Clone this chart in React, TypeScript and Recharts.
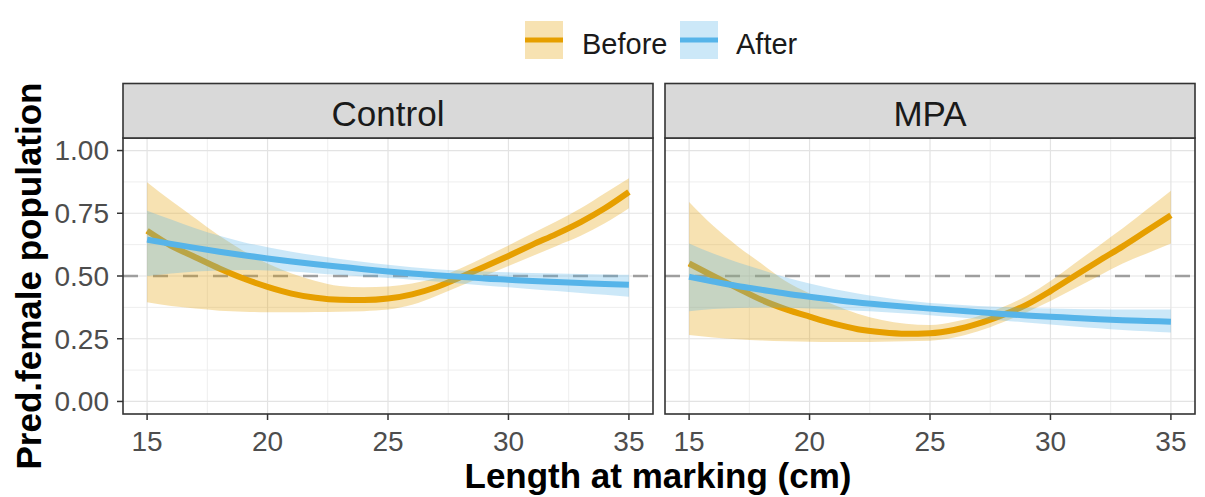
import React from 'react';
import { ComposedChart, Area, Line, XAxis, YAxis, ReferenceLine } from 'recharts';

// Length at marking (cm) at which the fitted curves are evaluated
const lengths = [15, 16, 17, 18, 19, 20, 21, 22, 23, 24, 25, 26, 27, 28, 29, 30, 31, 32, 33, 34, 35];

// Control sites
const controlBefore = [0.68, 0.62, 0.575, 0.53, 0.49, 0.457, 0.43, 0.413, 0.405, 0.404, 0.41, 0.427, 0.455, 0.495, 0.537, 0.58, 0.625, 0.668, 0.715, 0.77, 0.835];
const controlBeforeLow = [0.395, 0.38, 0.37, 0.362, 0.358, 0.356, 0.356, 0.357, 0.358, 0.36, 0.366, 0.385, 0.42, 0.46, 0.5, 0.54, 0.58, 0.62, 0.66, 0.71, 0.77];
const controlBeforeHigh = [0.874, 0.8, 0.73, 0.66, 0.6, 0.55, 0.51, 0.48, 0.46, 0.455, 0.458, 0.47, 0.493, 0.53, 0.575, 0.622, 0.67, 0.718, 0.77, 0.83, 0.89];
const controlAfter = [0.645, 0.628, 0.612, 0.597, 0.583, 0.57, 0.558, 0.547, 0.537, 0.527, 0.518, 0.51, 0.503, 0.497, 0.49, 0.485, 0.48, 0.476, 0.472, 0.468, 0.465];
const controlAfterLow = [0.5, 0.51, 0.518, 0.522, 0.524, 0.522, 0.518, 0.511, 0.504, 0.498, 0.492, 0.485, 0.478, 0.47, 0.462, 0.455, 0.447, 0.44, 0.432, 0.425, 0.417];
const controlAfterHigh = [0.76, 0.725, 0.69, 0.66, 0.635, 0.615, 0.597, 0.582, 0.568, 0.556, 0.545, 0.535, 0.527, 0.522, 0.518, 0.515, 0.512, 0.51, 0.508, 0.506, 0.505];

// MPA sites
const mpaBefore = [0.55, 0.5, 0.452, 0.405, 0.368, 0.338, 0.31, 0.288, 0.276, 0.27, 0.272, 0.285, 0.31, 0.344, 0.385, 0.44, 0.5, 0.56, 0.618, 0.68, 0.742];
const mpaBeforeLow = [0.265, 0.255, 0.248, 0.243, 0.24, 0.238, 0.237, 0.237, 0.238, 0.24, 0.242, 0.255, 0.28, 0.315, 0.355, 0.4, 0.45, 0.5, 0.55, 0.59, 0.63];
const mpaBeforeHigh = [0.795, 0.7, 0.62, 0.55, 0.48, 0.43, 0.385, 0.35, 0.325, 0.31, 0.305, 0.318, 0.34, 0.375, 0.42, 0.48, 0.55, 0.62, 0.69, 0.765, 0.84];
const mpaAfter = [0.497, 0.478, 0.46, 0.445, 0.43, 0.417, 0.405, 0.394, 0.385, 0.377, 0.37, 0.363, 0.356, 0.349, 0.343, 0.338, 0.333, 0.328, 0.324, 0.321, 0.318];
const mpaAfterLow = [0.36, 0.368, 0.372, 0.374, 0.373, 0.37, 0.366, 0.362, 0.357, 0.351, 0.344, 0.337, 0.33, 0.323, 0.315, 0.307, 0.299, 0.292, 0.285, 0.28, 0.275];
const mpaAfterHigh = [0.63, 0.59, 0.555, 0.525, 0.495, 0.47, 0.448, 0.43, 0.415, 0.402, 0.392, 0.386, 0.38, 0.376, 0.373, 0.37, 0.368, 0.367, 0.366, 0.366, 0.366];

const xTicks = [15, 20, 25, 30, 35];
const xMinor = [17.5, 22.5, 27.5, 32.5];
const yTicks = [0, 0.25, 0.5, 0.75, 1];
const yMinor = [0.125, 0.375, 0.625, 0.875];
const referenceLevel = 0.5;

const facetLabels = ['Control', 'MPA'];
const seriesLabels = ['Before', 'After'];

const BEFORE = '#E69F00';
const AFTER = '#56B4E9';
const FONT = '"Liberation Sans", Arial, sans-serif';

function buildRows(
  before: number[], beforeLow: number[], beforeHigh: number[],
  after: number[], afterLow: number[], afterHigh: number[]
) {
  return lengths.map((x, i) => ({
    x,
    before: before[i],
    beforeBand: [beforeLow[i], beforeHigh[i]],
    after: after[i],
    afterBand: [afterLow[i], afterHigh[i]],
  }));
}

const controlRows = buildRows(controlBefore, controlBeforeLow, controlBeforeHigh, controlAfter, controlAfterLow, controlAfterHigh);
const mpaRows = buildRows(mpaBefore, mpaBeforeLow, mpaBeforeHigh, mpaAfter, mpaAfterLow, mpaAfterHigh);

const tickStyle = { fontSize: 28, fill: '#4D4D4D', fontFamily: FONT };

type PanelProps = {
  rows: any[];
  width: number;
  left: number;
  right: number;
  showY: boolean;
};

function Panel({ rows, width, left, right, showY }: PanelProps) {
  return (
    <ComposedChart
      width={width}
      height={497}
      data={rows}
      margin={{ top: 138, right, bottom: 43, left }}
    >
      {yMinor.map((v) => (
        <ReferenceLine key={'ym' + v} y={v} stroke="#EEEEEE" strokeWidth={1} zIndex={-100} />
      ))}
      {xMinor.map((v) => (
        <ReferenceLine key={'xm' + v} x={v} stroke="#EEEEEE" strokeWidth={1} zIndex={-100} />
      ))}
      {yTicks.map((v) => (
        <ReferenceLine key={'yM' + v} y={v} stroke="#E3E3E3" strokeWidth={1.2} zIndex={-99} />
      ))}
      {xTicks.map((v) => (
        <ReferenceLine key={'xM' + v} x={v} stroke="#E3E3E3" strokeWidth={1.2} zIndex={-99} />
      ))}
      <XAxis
        type="number"
        dataKey="x"
        domain={[14, 36]}
        ticks={xTicks}
        height={40}
        axisLine={false}
        tickLine={{ stroke: '#333333', strokeWidth: 1.5 }}
        tickSize={6}
        tickMargin={11}
        tick={tickStyle}
        interval={0}
      />
      <YAxis
        type="number"
        domain={[-0.05, 1.05]}
        ticks={yTicks}
        hide={!showY}
        width={123}
        axisLine={false}
        tickLine={{ stroke: '#333333', strokeWidth: 1.5 }}
        tickSize={6}
        tickMargin={8}
        tick={tickStyle}
        interval={0}
        tickFormatter={(v: number) => v.toFixed(2)}
      />
      <ReferenceLine
        y={referenceLevel}
        stroke="#9E9E9E"
        strokeWidth={2.5}
        strokeDasharray="15 15"
        zIndex={50}
      />
      <Area
        type="monotone"
        dataKey="beforeBand"
        stroke="none"
        fill={BEFORE}
        fillOpacity={0.3}
        isAnimationActive={false}
        activeDot={false}
        zIndex={100}
      />
      <Line
        type="monotone"
        dataKey="before"
        stroke={BEFORE}
        strokeWidth={6}
        dot={false}
        activeDot={false}
        isAnimationActive={false}
        zIndex={101}
      />
      <Area
        type="monotone"
        dataKey="afterBand"
        stroke="none"
        fill={AFTER}
        fillOpacity={0.3}
        isAnimationActive={false}
        activeDot={false}
        zIndex={102}
      />
      <Line
        type="monotone"
        dataKey="after"
        stroke={AFTER}
        strokeWidth={6}
        dot={false}
        activeDot={false}
        isAnimationActive={false}
        zIndex={103}
      />
    </ComposedChart>
  );
}

const panels = [
  { x: 123, label: facetLabels[0] },
  { x: 665, label: facetLabels[1] },
];
const PANEL_W = 530;

export default function App() {
  return (
    <div
      style={{
        position: 'absolute',
        left: 0,
        top: 0,
        width: 1205,
        height: 497,
        background: '#FFFFFF',
        fontFamily: FONT,
        overflow: 'hidden',
      }}
    >
      <div style={{ position: 'absolute', left: 0, top: 0 }}>
        <Panel rows={controlRows} width={660} left={0} right={7} showY={true} />
      </div>
      <div style={{ position: 'absolute', left: 660, top: 0 }}>
        <Panel rows={mpaRows} width={545} left={5} right={10} showY={false} />
      </div>
      <svg
        width={1205}
        height={497}
        style={{ position: 'absolute', left: 0, top: 0, pointerEvents: 'none' }}
      >
        {panels.map((p) => (
          <g key={p.label}>
            <rect x={p.x} y={138} width={PANEL_W} height={276} fill="none" stroke="#333333" strokeWidth={1.6} />
            <rect x={p.x} y={83.5} width={PANEL_W} height={54.5} fill="#D9D9D9" stroke="#333333" strokeWidth={1.6} />
            <text
              x={p.x + PANEL_W / 2}
              y={125.5}
              textAnchor="middle"
              fontSize={35}
              fill="#1A1A1A"
              fontFamily={FONT}
            >
              {p.label}
            </text>
          </g>
        ))}

        {/* legend */}
        <rect x={525} y={21} width={38} height={38} fill={BEFORE} fillOpacity={0.3} />
        <line x1={525} x2={563} y1={40} y2={40} stroke={BEFORE} strokeWidth={5} />
        <text x={582} y={54} fontSize={29} fill="#1A1A1A" fontFamily={FONT}>
          {seriesLabels[0]}
        </text>
        <rect x={680} y={21} width={38} height={38} fill={AFTER} fillOpacity={0.3} />
        <line x1={680} x2={718} y1={40} y2={40} stroke={AFTER} strokeWidth={5} />
        <text x={736} y={54} fontSize={29} fill="#1A1A1A" fontFamily={FONT}>
          {seriesLabels[1]}
        </text>

        {/* axis titles */}
        <text
          x={658}
          y={488}
          textAnchor="middle"
          fontSize={35}
          fontWeight="bold"
          fill="#000000"
          fontFamily={FONT}
        >
          Length at marking (cm)
        </text>
        <text
          x={41}
          y={276}
          transform="rotate(-90, 41, 276)"
          textAnchor="middle"
          fontSize={35}
          fontWeight="bold"
          fill="#000000"
          fontFamily={FONT}
        >
          Pred.female population
        </text>
      </svg>
    </div>
  );
}
